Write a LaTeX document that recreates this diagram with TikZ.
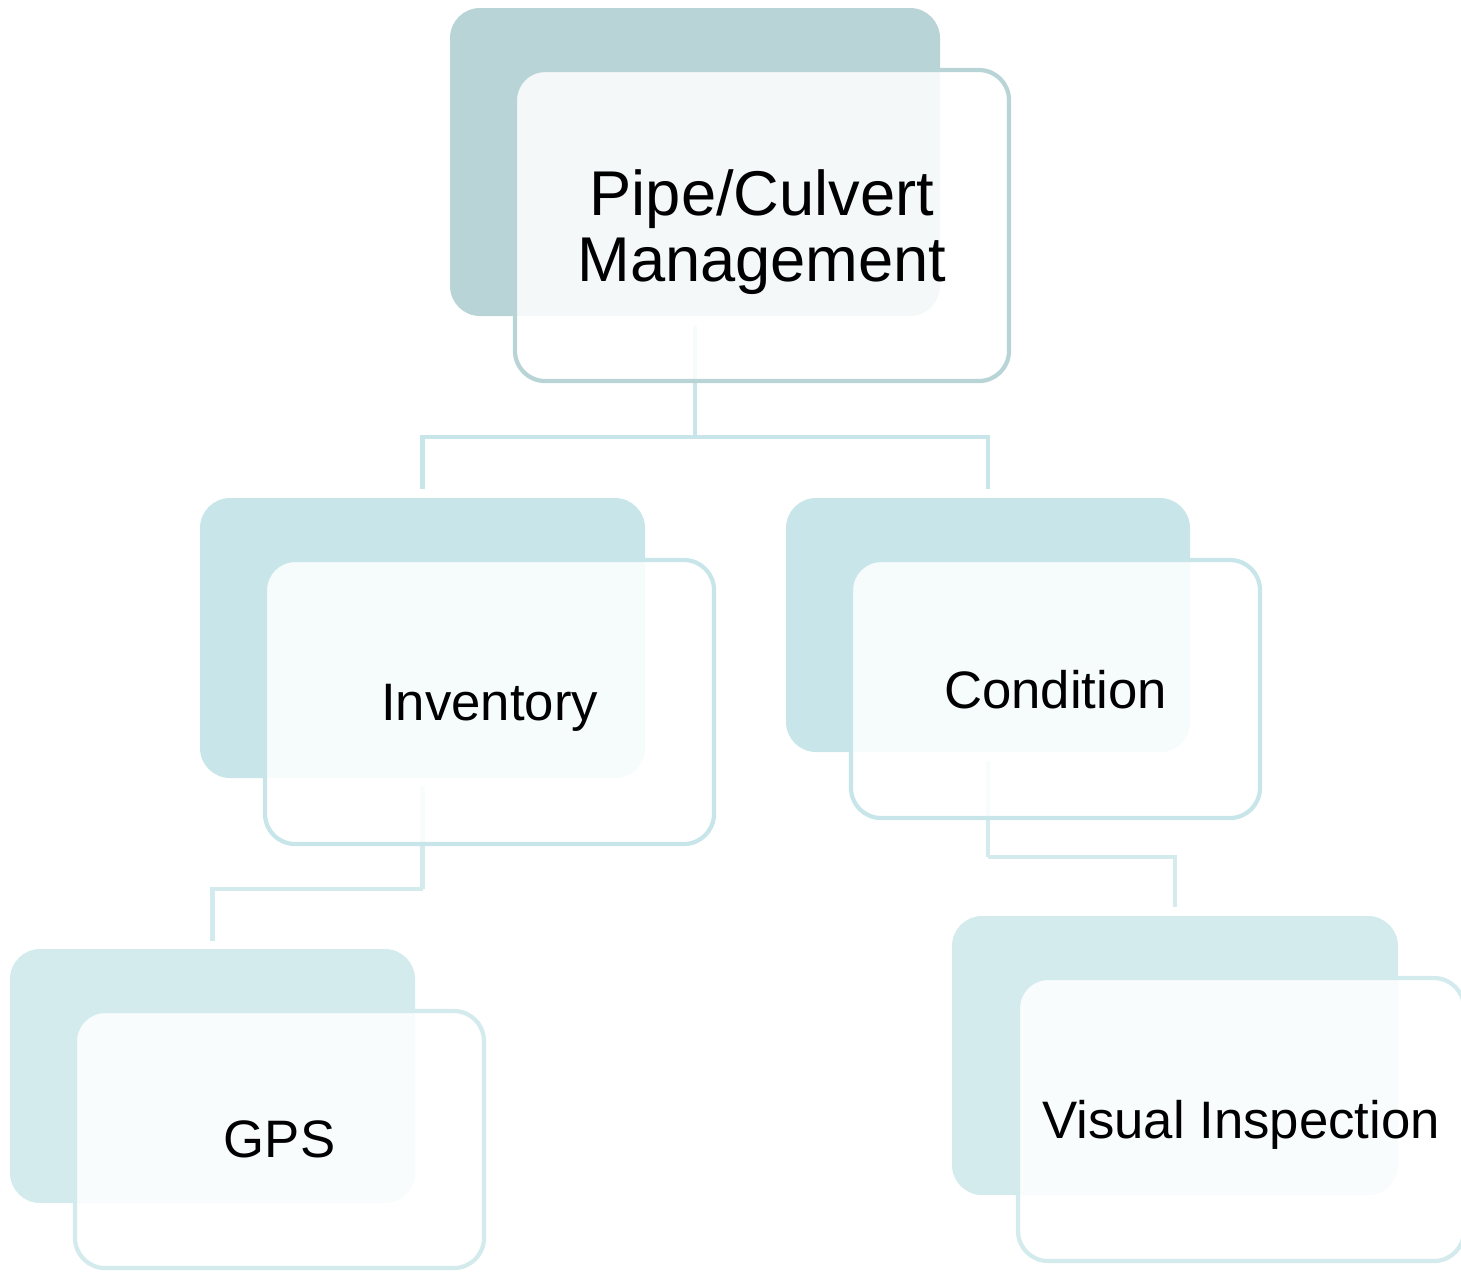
\documentclass[tikz,border=0pt]{standalone}
\usepackage{fontspec}
\setmainfont{Liberation Sans}
\definecolor{cTop}{HTML}{B9D4D7}
\definecolor{cMid}{HTML}{C8E6E9}
\definecolor{cBot}{HTML}{D4EBED}
\tikzset{
  backbox/.style={draw=none, fill=#1, rounded corners=0.3cm, inner sep=0pt, shape=rectangle},
  frontbox/.style={draw=#1, line width=1.2pt, fill=white, fill opacity=0.85, text opacity=1,
     rounded corners=0.3cm, inner sep=0pt, shape=rectangle, align=center, text depth=0pt},
  conn/.style={draw=#1, line width=1.2pt, line join=miter},
  midfont/.style={font=\fontsize{15}{17}\selectfont},
  topfont/.style={font=\fontsize{18}{19}\selectfont}
}
\begin{document}
\begin{tikzpicture}
\useasboundingbox (0,0) rectangle (14.61,-12.72);
% back boxes
\node[backbox=cTop, minimum width=4.90cm, minimum height=3.08cm] (topback) at (6.95,-1.62) {};
\node[backbox=cMid, minimum width=4.45cm, minimum height=2.80cm] (invback) at (4.225,-6.38) {};
\node[backbox=cMid, minimum width=4.04cm, minimum height=2.54cm] (condback) at (9.88,-6.25) {};
\node[backbox=cBot, minimum width=4.05cm, minimum height=2.54cm] (gpsback) at (2.125,-10.76) {};
\node[backbox=cBot, minimum width=4.46cm, minimum height=2.79cm] (viback) at (11.75,-10.555) {};
% connectors
\coordinate (j1) at (6.95,-4.37);
\coordinate (j2) at (4.225,-8.89);
\coordinate (j3) at (9.88,-8.57);
\draw[conn=cMid, shorten <=0.09cm] (topback.south) -- (j1);
\draw[conn=cMid, shorten >=0.08cm] (j1) -| (invback.north);
\draw[conn=cMid, shorten >=0.08cm] (j1) -| (condback.north);
\draw[conn=cBot, shorten <=0.07cm] (invback.south) -- (j2);
\draw[conn=cBot, shorten >=0.07cm] (j2) -| (gpsback.north);
\draw[conn=cBot, shorten <=0.08cm] (condback.south) -- (j3);
\draw[conn=cBot, shorten >=0.08cm] (j3) -| (viback.north);
% front boxes
\node[frontbox=cTop, topfont, minimum width=4.94cm, minimum height=3.11cm] (top) at (7.62,-2.255) {Pipe/Culvert\\Management};
\node[frontbox=cMid, midfont, minimum width=4.49cm, minimum height=2.84cm] (inv) at (4.895,-7.02) {Inventory};
\node[frontbox=cMid, midfont, minimum width=4.09cm, minimum height=2.58cm] (cond) at (10.555,-6.89) {Condition};
\node[frontbox=cBot, midfont, minimum width=4.09cm, minimum height=2.57cm] (gps) at (2.795,-11.395) {GPS};
\node[frontbox=cBot, midfont, minimum width=4.46cm, minimum height=2.83cm] (vi) at (12.41,-11.195) {Visual Inspection};
\end{tikzpicture}
\end{document}
